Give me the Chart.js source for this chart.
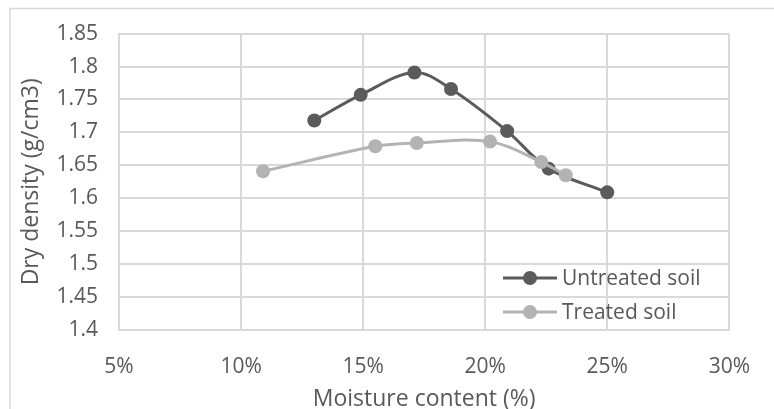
<!DOCTYPE html>
<html>
<head>
<meta charset="utf-8">
<script src="https://cdn.jsdelivr.net/npm/chart.js@4"></script>
<style>
  html, body { margin: 0; padding: 0; background: #ffffff; }
  #wrap { width: 774px; height: 409px; position: relative; }
</style>
</head>
<body>
<div id="wrap"><canvas id="c" width="774" height="409"></canvas></div>
<script>
// ---- data ----
const seriesNames = ["Untreated soil", "Treated soil"];
const untreatedMoisture = [13.0, 14.9, 17.1, 18.6, 20.9, 22.6, 25.0];
const untreatedDensity  = [1.718, 1.757, 1.791, 1.766, 1.702, 1.645, 1.609];
const treatedMoisture   = [10.9, 15.5, 17.2, 20.2, 22.3, 23.3];
const treatedDensity    = [1.641, 1.679, 1.684, 1.686, 1.655, 1.635];
const xTickValues = [5, 10, 15, 20, 25, 30];
const yTickValues = [1.4, 1.45, 1.5, 1.55, 1.6, 1.65, 1.7, 1.75, 1.8, 1.85];
const xTitle = "Moisture content (%)";
const yTitle = "Dry density (g/cm3)";

const FONT = "'Open Sans', 'Liberation Sans', sans-serif";
const TEXT = "#595959";
const GRID = "#d9d9d9";

function pts(xs, ys) { return xs.map((x, i) => ({ x: x, y: ys[i] })); }

const outerBorder = {
  id: 'outerBorder',
  beforeDraw(chart) {
    const ctx = chart.ctx;
    ctx.save();
    ctx.fillStyle = '#ffffff';
    ctx.fillRect(0, 0, chart.width, chart.height);
    ctx.strokeStyle = GRID;
    ctx.lineWidth = 1.5;
    ctx.strokeRect(10, 8.5, 900, 600);
    ctx.restore();
  }
};

const insideLegend = {
  id: 'insideLegend',
  afterDraw(chart) {
    const ctx = chart.ctx;
    const rows = [278, 312];
    ctx.save();
    chart.data.datasets.forEach((ds, i) => {
      const y = rows[i];
      ctx.strokeStyle = ds.borderColor;
      ctx.lineWidth = ds.borderWidth;
      ctx.beginPath();
      ctx.moveTo(503, y);
      ctx.lineTo(557, y);
      ctx.stroke();
      ctx.fillStyle = ds.pointBackgroundColor;
      ctx.beginPath();
      ctx.arc(530, y, ds.pointRadius, 0, Math.PI * 2);
      ctx.fill();
      ctx.fillStyle = TEXT;
      ctx.font = "21px " + FONT;
      ctx.textBaseline = 'middle';
      ctx.textAlign = 'left';
      ctx.fillText(ds.label, 562, y + 1);
    });
    ctx.restore();
  }
};

new Chart(document.getElementById('c'), {
  type: 'scatter',
  data: {
    datasets: [
      {
        label: seriesNames[0],
        data: pts(untreatedMoisture, untreatedDensity),
        showLine: true,
        borderColor: '#5b5b5b',
        backgroundColor: '#5b5b5b',
        pointBackgroundColor: '#5b5b5b',
        pointBorderColor: '#5b5b5b',
        borderWidth: 3,
        pointRadius: 7,
        pointBorderWidth: 0,
        tension: 0.35,
        order: 1
      },
      {
        label: seriesNames[1],
        data: pts(treatedMoisture, treatedDensity),
        showLine: true,
        borderColor: '#b3b3b3',
        backgroundColor: '#b3b3b3',
        pointBackgroundColor: '#b3b3b3',
        pointBorderColor: '#b3b3b3',
        borderWidth: 3,
        pointRadius: 7,
        pointBorderWidth: 0,
        tension: 0.35,
        order: 0
      }
    ]
  },
  options: {
    responsive: false,
    animation: false,
    devicePixelRatio: 1,
    layout: { padding: { left: 0, top: 30, right: 37, bottom: 0 } },
    plugins: {
      legend: { display: false },
      tooltip: { enabled: false }
    },
    scales: {
      x: {
        type: 'linear',
        min: 5, max: 30,
        afterBuildTicks: (s) => { s.ticks = xTickValues.map(v => ({ value: v })); },
        afterFit: (s) => { s.height = 79; },
        grid: { color: GRID, lineWidth: 2, drawTicks: false },
        border: { color: GRID, width: 2 },
        ticks: {
          padding: 24,
          color: TEXT,
          font: { family: FONT, size: 21 },
          callback: (v) => v + '%'
        },
        title: {
          display: true,
          text: xTitle,
          color: TEXT,
          font: { family: FONT, size: 23, lineHeight: 0.8 },
          padding: { top: 0, bottom: 0 }
        }
      },
      y: {
        type: 'linear',
        min: 1.4, max: 1.85,
        afterBuildTicks: (s) => { s.ticks = yTickValues.map(v => ({ value: v })); },
        afterFit: (s) => { s.width = 119; },
        grid: { color: GRID, lineWidth: 2, drawTicks: false },
        border: { color: GRID, width: 2 },
        ticks: {
          padding: 21,
          color: TEXT,
          font: { family: FONT, size: 21 },
          callback: (v) => String(Number(v.toFixed(2)))
        },
        title: {
          display: true,
          text: yTitle,
          color: TEXT,
          font: { family: FONT, size: 23 },
          padding: { top: 18, bottom: 0 }
        }
      }
    }
  },
  plugins: [outerBorder, insideLegend]
});
</script>
</body>
</html>
